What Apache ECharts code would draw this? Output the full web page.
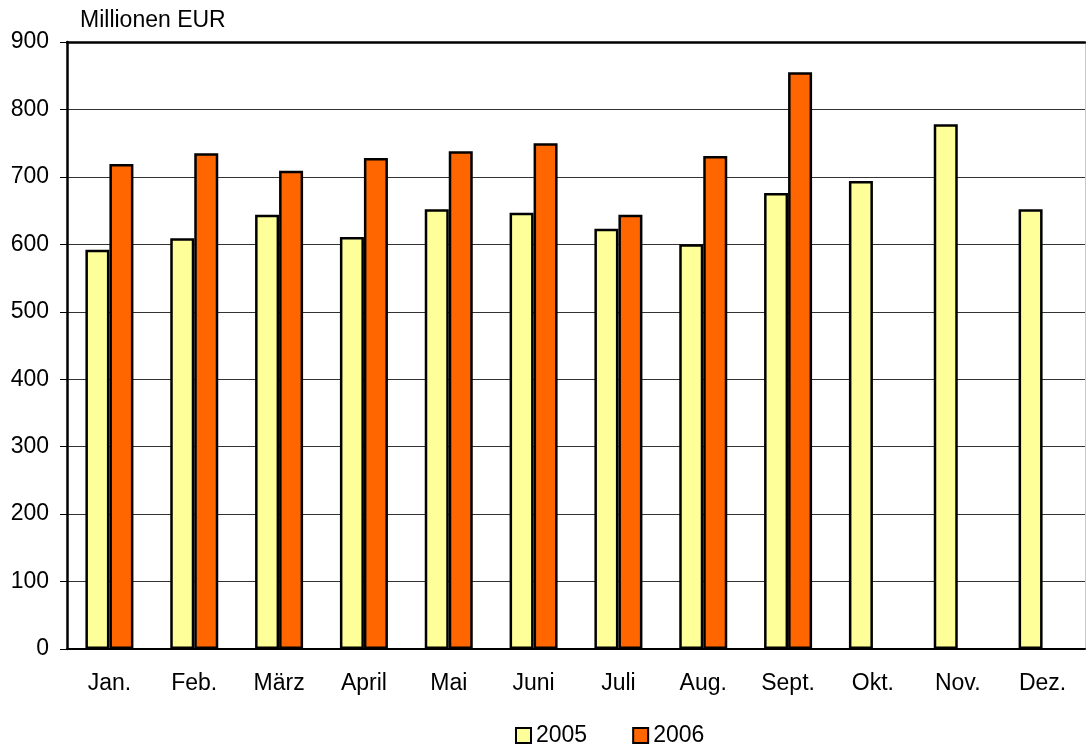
<!DOCTYPE html>
<html>
<head>
<meta charset="utf-8">
<title>Millionen EUR</title>
<script src="https://cdn.jsdelivr.net/npm/echarts@6/dist/echarts.min.js"></script>
<style>
  html, body { margin: 0; padding: 0; background: #ffffff; }
  #chart { width: 1086px; height: 749px; }
</style>
</head>
<body>
<div id="chart"></div>
<script>
// Monatswerte in Millionen EUR
const months = ['Jan.', 'Feb.', 'März', 'April', 'Mai', 'Juni', 'Juli', 'Aug.', 'Sept.', 'Okt.', 'Nov.', 'Dez.']
const values2005 = [592, 609, 644, 611, 652, 647, 623, 600, 676, 694, 778, 652]
const values2006 = [719, 735, 709, 728, 738, 750, 644, 731, 855, null, null, null]
const yTicks = { min: 0, max: 900, interval: 100 }

const font = 'Liberation Sans, Arial, sans-serif'

const chart = echarts.init(document.getElementById('chart'))
chart.setOption({
  animation: false,
  backgroundColor: '#ffffff',
  title: {
    text: 'Millionen EUR',
    left: 75,
    top: 4,
    textStyle: { fontFamily: font, fontSize: 23, fontWeight: 'normal', color: '#000' }
  },
  legend: {
    data: ['2005', '2006'],
    left: 510,
    top: 719,
    itemWidth: 15,
    itemHeight: 15,
    itemGap: 45,
    icon: 'rect',
    textStyle: { fontFamily: font, fontSize: 23, color: '#000' }
  },
  grid: {
    left: 67,
    right: 1,
    top: 42,
    bottom: 100
  },
  xAxis: [
    {
      type: 'category',
      data: months,
      axisLine: { onZero: false, lineStyle: { color: '#000', width: 2 } },
      axisTick: { show: false },
      axisLabel: { fontFamily: font, fontSize: 23, color: '#000', margin: 23 }
    },
    {
      type: 'category',
      position: 'top',
      data: months,
      axisLine: { show: true, onZero: false, lineStyle: { color: '#000', width: 2.5 } },
      axisTick: { show: false },
      axisLabel: { show: false }
    }
  ],
  yAxis: [
    {
      type: 'value',
      min: yTicks.min,
      max: yTicks.max,
      interval: yTicks.interval,
      axisLine: { show: true, onZero: false, lineStyle: { color: '#000', width: 2.5 } },
      axisTick: { show: true, length: 7, lineStyle: { color: '#000' } },
      axisLabel: { fontFamily: font, fontSize: 23, color: '#000', margin: 18 },
      splitLine: { lineStyle: { color: '#333', width: 1 } }
    },
    {
      type: 'value',
      position: 'right',
      min: yTicks.min,
      max: yTicks.max,
      interval: yTicks.interval,
      axisLine: { show: true, onZero: false, lineStyle: { color: '#c8c8c8', width: 1 } },
      axisTick: { show: false },
      axisLabel: { show: false },
      splitLine: { show: false }
    }
  ],
  series: [
    {
      name: '2005',
      type: 'bar',
      data: values2005,
      barWidth: 24,
      barGap: '0%',
      itemStyle: { color: '#FFFF99', borderColor: '#000', borderWidth: 2.5 }
    },
    {
      name: '2006',
      type: 'bar',
      data: values2006,
      barWidth: 24,
      barGap: '0%',
      itemStyle: { color: '#FF6600', borderColor: '#000', borderWidth: 2.5 }
    }
  ]
})
</script>
</body>
</html>
